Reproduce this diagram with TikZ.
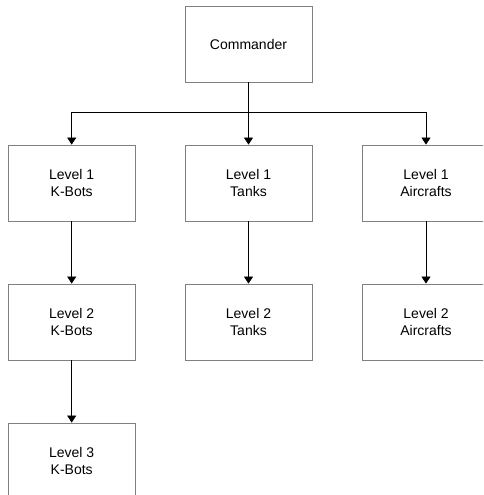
\documentclass[tikz,border=0pt]{standalone}
\usepackage{fontspec}
\setmainfont{Liberation Sans}
\usetikzlibrary{arrows.meta}
\begin{document}
\begin{tikzpicture}[x=1pt,y=-1pt,
    unit/.style={draw=gray,line width=0.8pt,minimum width=127pt,minimum height=76pt,
      align=center,font=\fontsize{14}{16.7}\selectfont,inner sep=0pt},
    link/.style={line width=0.7pt,-{Triangle[length=7pt,width=9pt]}}]
  \useasboundingbox (0,0) rectangle (483,495);
  \clip (0,0) rectangle (483,495);
  \node[unit] (cmd) at (248.5,44) {Commander};
  \node[unit] (kb1) at (71.7,183) {Level 1\\K-Bots};
  \node[unit] (tk1) at (248.5,183) {Level 1\\Tanks};
  \node[unit] (ac1) at (426,183) {Level 1\\Aircrafts};
  \node[unit] (kb2) at (71.7,322) {Level 2\\K-Bots};
  \node[unit] (tk2) at (248.5,322) {Level 2\\Tanks};
  \node[unit] (ac2) at (426,322) {Level 2\\Aircrafts};
  \node[unit] (kb3) at (71.7,461) {Level 3\\K-Bots};
  \coordinate (bus) at (248.5,112.7);
  \draw[line width=0.7pt] (cmd.south) -- (bus);
  \draw[link] (bus) -| (kb1.north);
  \draw[link] (bus) -- (tk1.north);
  \draw[link] (bus) -| (ac1.north);
  \draw[link] (kb1) -- (kb2);
  \draw[link] (tk1) -- (tk2);
  \draw[link] (ac1) -- (ac2);
  \draw[link] (kb2) -- (kb3);
\end{tikzpicture}
\end{document}
